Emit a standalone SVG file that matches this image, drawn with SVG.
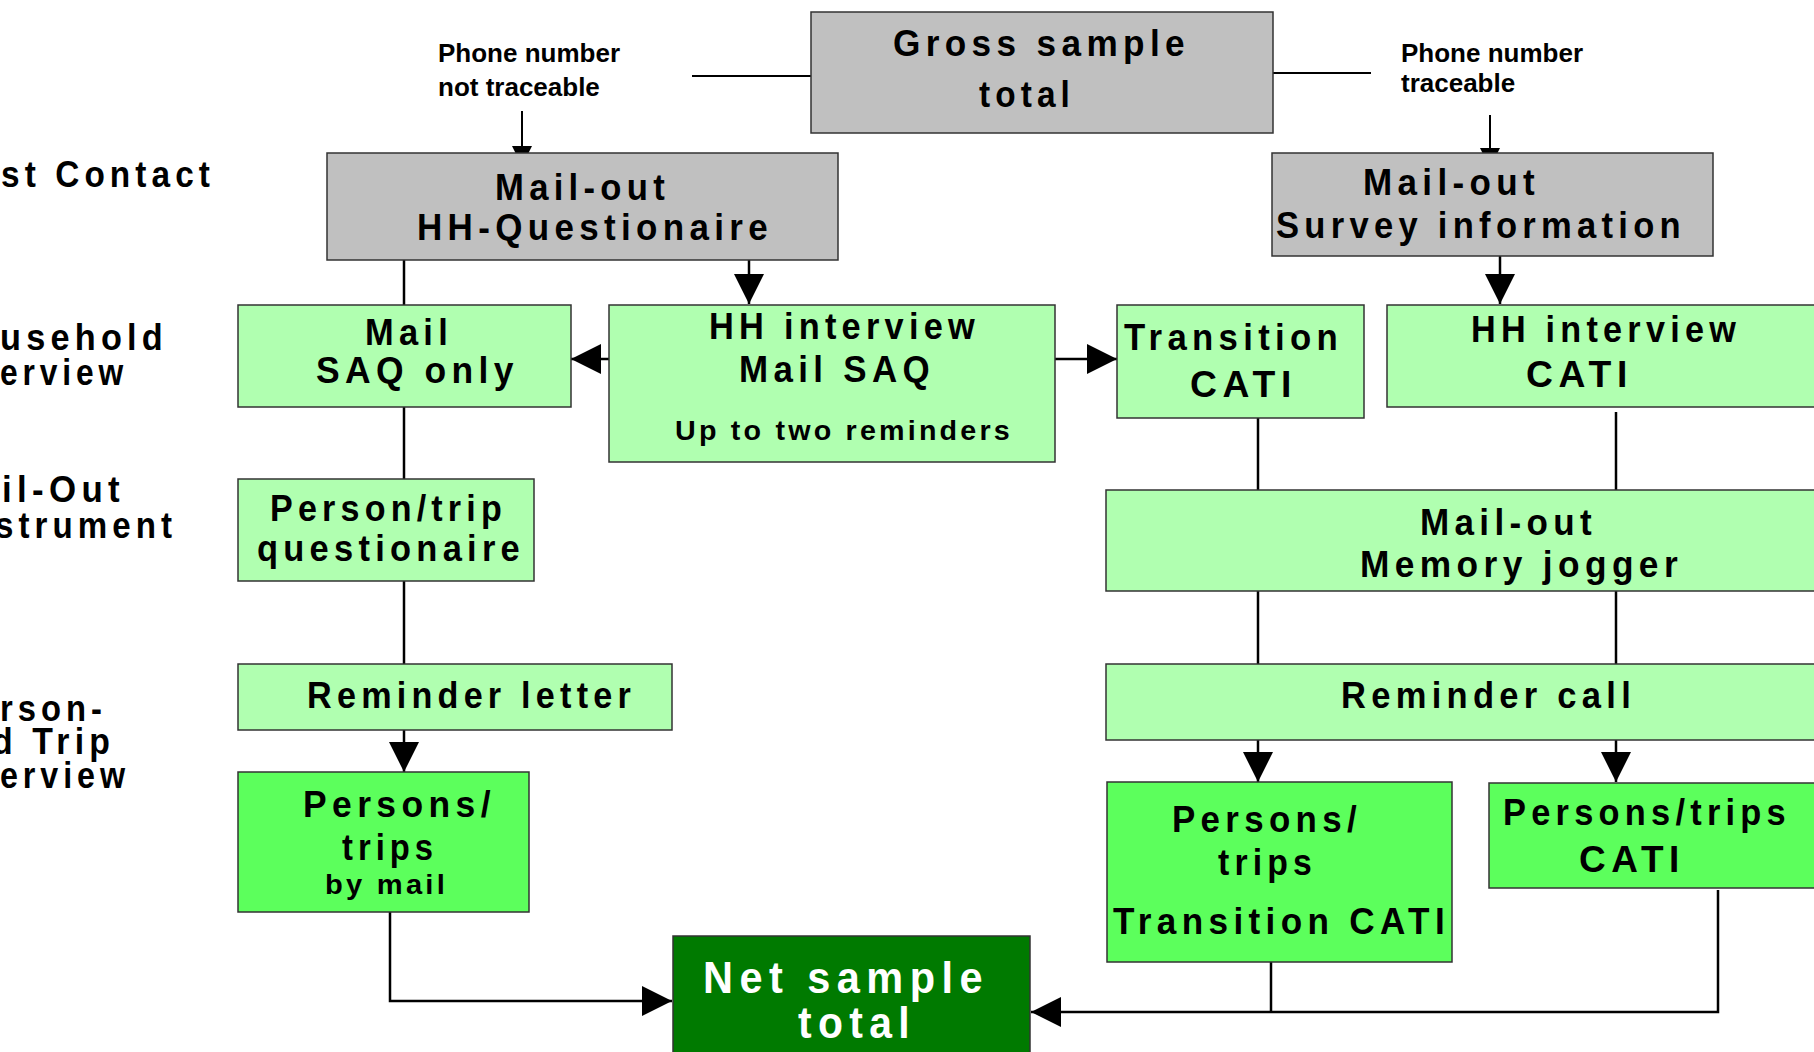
<svg xmlns="http://www.w3.org/2000/svg" width="1814" height="1052" viewBox="0 0 1814 1052">
<style>
.bx{stroke:#333;stroke-width:1.5}
.g{fill:#c0c0c0}
.lg{fill:#b0ffb0}
.bg{fill:#5cff5c}
.dg{fill:#007a00}
.t{font-family:"Liberation Sans",Arial,sans-serif;font-weight:bold;font-size:36px;letter-spacing:5.5px;fill:#000}
.s{font-size:27px;letter-spacing:3px}
.w{fill:#fff;font-size:45px;letter-spacing:7px}
.ph{font-family:"Liberation Sans",Arial,sans-serif;font-weight:bold;font-size:26px;fill:#000}
.c{fill:none;stroke:#000;stroke-width:2.5}
.cs{fill:none;stroke:#000;stroke-width:2}
</style>
<defs>
<marker id="ah" markerUnits="userSpaceOnUse" markerWidth="30" markerHeight="30" refX="30" refY="15" orient="auto" viewBox="0 0 30 30"><path d="M0,0 L30,15 L0,30 z" fill="#000"/></marker>
<marker id="as" markerUnits="userSpaceOnUse" markerWidth="20" markerHeight="20" refX="20" refY="10" orient="auto" viewBox="0 0 20 20"><path d="M0,0 L20,10 L0,20 z" fill="#000"/></marker>
</defs>
<rect width="1814" height="1052" fill="#fff"/>

<g id="row-labels">
<text class="t" x="1" y="187" textLength="214" lengthAdjust="spacingAndGlyphs">st Contact</text>
<text class="t" x="0" y="350" textLength="168" lengthAdjust="spacingAndGlyphs">usehold</text>
<text class="t" x="0" y="385" textLength="128" lengthAdjust="spacingAndGlyphs">erview</text>
<text class="t" x="2" y="502" textLength="123" lengthAdjust="spacingAndGlyphs">il-Out</text>
<text class="t" x="-5" y="538" textLength="182" lengthAdjust="spacingAndGlyphs">strument</text>
<text class="t" x="0" y="721" textLength="107" lengthAdjust="spacingAndGlyphs">rson-</text>
<text class="t" x="-8" y="754" textLength="123" lengthAdjust="spacingAndGlyphs">d Trip</text>
<text class="t" x="0" y="788" textLength="130" lengthAdjust="spacingAndGlyphs">erview</text>
</g>

<g id="phone-labels">
<text class="ph" x="438" y="62">Phone number</text>
<text class="ph" x="438" y="96">not traceable</text>
<text class="ph" x="1401" y="62">Phone number</text>
<text class="ph" x="1401" y="92">traceable</text>
</g>

<g id="connectors">
<line class="cs" x1="692" y1="76" x2="811" y2="76"/>
<line class="cs" x1="1264" y1="73" x2="1371" y2="73"/>
<line class="cs" x1="522" y1="111" x2="522" y2="166" marker-end="url(#as)"/>
<line class="cs" x1="1490" y1="115" x2="1490" y2="168" marker-end="url(#as)"/>
<line class="c" x1="404" y1="260" x2="404" y2="305"/>
<line class="c" x1="749" y1="260" x2="749" y2="304" marker-end="url(#ah)"/>
<line class="c" x1="609" y1="359" x2="571" y2="359" marker-end="url(#ah)"/>
<line class="c" x1="1055" y1="359" x2="1117" y2="359" marker-end="url(#ah)"/>
<line class="c" x1="1500" y1="256" x2="1500" y2="304" marker-end="url(#ah)"/>
<line class="c" x1="404" y1="407" x2="404" y2="479"/>
<line class="c" x1="404" y1="581" x2="404" y2="664"/>
<line class="c" x1="404" y1="730" x2="404" y2="772" marker-end="url(#ah)"/>
<line class="c" x1="1258" y1="418" x2="1258" y2="490"/>
<line class="c" x1="1616" y1="412" x2="1616" y2="490"/>
<line class="c" x1="1258" y1="591" x2="1258" y2="664"/>
<line class="c" x1="1616" y1="591" x2="1616" y2="664"/>
<line class="c" x1="1258" y1="740" x2="1258" y2="782" marker-end="url(#ah)"/>
<line class="c" x1="1616" y1="740" x2="1616" y2="782" marker-end="url(#ah)"/>
<polyline class="c" points="390,912 390,1001 672,1001" marker-end="url(#ah)"/>
<line class="c" x1="1271" y1="957" x2="1271" y2="1012"/>
<polyline class="c" points="1718,890 1718,1012 1031,1012" marker-end="url(#ah)"/>
</g>

<g id="gross-sample">
<rect class="bx g" x="811" y="12" width="462" height="121"/>
<text class="t" x="893" y="56" textLength="297" lengthAdjust="spacingAndGlyphs">Gross sample</text>
<text class="t" x="979" y="107" textLength="96" lengthAdjust="spacingAndGlyphs">total</text>
</g>

<g id="mailout-hh">
<rect class="bx g" x="327" y="153" width="511" height="107"/>
<text class="t" x="495" y="200" textLength="175" lengthAdjust="spacingAndGlyphs">Mail-out</text>
<text class="t" x="417" y="240" textLength="356" lengthAdjust="spacingAndGlyphs">HH-Questionaire</text>
</g>

<g id="mailout-survey">
<rect class="bx g" x="1272" y="153" width="441" height="103"/>
<text class="t" x="1363" y="195" textLength="177" lengthAdjust="spacingAndGlyphs">Mail-out</text>
<text class="t" x="1276" y="238" textLength="410" lengthAdjust="spacingAndGlyphs">Survey information</text>
</g>

<g id="mail-saq-only">
<rect class="bx lg" x="238" y="305" width="333" height="102"/>
<text class="t" x="365" y="345" textLength="88" lengthAdjust="spacingAndGlyphs">Mail</text>
<text class="t" x="316" y="383" textLength="203" lengthAdjust="spacingAndGlyphs">SAQ only</text>
</g>

<g id="hh-interview-mail">
<rect class="bx lg" x="609" y="305" width="446" height="157"/>
<text class="t" x="709" y="339" textLength="271" lengthAdjust="spacingAndGlyphs">HH interview</text>
<text class="t" x="739" y="382" textLength="196" lengthAdjust="spacingAndGlyphs">Mail SAQ</text>
<text class="t s" x="675" y="440" textLength="338" lengthAdjust="spacingAndGlyphs">Up to two reminders</text>
</g>

<g id="transition-cati">
<rect class="bx lg" x="1117" y="305" width="247" height="113"/>
<text class="t" x="1124" y="350" textLength="219" lengthAdjust="spacingAndGlyphs">Transition</text>
<text class="t" x="1190" y="397" textLength="107" lengthAdjust="spacingAndGlyphs">CATI</text>
</g>

<g id="hh-interview-cati">
<rect class="bx lg" x="1387" y="305" width="440" height="102"/>
<text class="t" x="1471" y="342" textLength="270" lengthAdjust="spacingAndGlyphs">HH interview</text>
<text class="t" x="1526" y="387" textLength="107" lengthAdjust="spacingAndGlyphs">CATI</text>
</g>

<g id="person-trip-questionaire">
<rect class="bx lg" x="238" y="479" width="296" height="102"/>
<text class="t" x="270" y="521" textLength="237" lengthAdjust="spacingAndGlyphs">Person/trip</text>
<text class="t" x="257" y="561" textLength="268" lengthAdjust="spacingAndGlyphs">questionaire</text>
</g>

<g id="memory-jogger">
<rect class="bx lg" x="1106" y="490" width="720" height="101"/>
<text class="t" x="1420" y="535" textLength="177" lengthAdjust="spacingAndGlyphs">Mail-out</text>
<text class="t" x="1360" y="577" textLength="323" lengthAdjust="spacingAndGlyphs">Memory jogger</text>
</g>

<g id="reminder-letter">
<rect class="bx lg" x="238" y="664" width="434" height="66"/>
<text class="t" x="307" y="708" textLength="329" lengthAdjust="spacingAndGlyphs">Reminder letter</text>
</g>

<g id="reminder-call">
<rect class="bx lg" x="1106" y="664" width="720" height="76"/>
<text class="t" x="1341" y="708" textLength="295" lengthAdjust="spacingAndGlyphs">Reminder call</text>
</g>

<g id="persons-trips-mail">
<rect class="bx bg" x="238" y="772" width="291" height="140"/>
<text class="t" x="303" y="817" textLength="193" lengthAdjust="spacingAndGlyphs">Persons/</text>
<text class="t" x="342" y="860" textLength="96" lengthAdjust="spacingAndGlyphs">trips</text>
<text class="t s" x="325" y="894" textLength="123" lengthAdjust="spacingAndGlyphs">by mail</text>
</g>

<g id="persons-trips-transition">
<rect class="bx bg" x="1107" y="782" width="345" height="180"/>
<text class="t" x="1172" y="832" textLength="190" lengthAdjust="spacingAndGlyphs">Persons/</text>
<text class="t" x="1218" y="875" textLength="99" lengthAdjust="spacingAndGlyphs">trips</text>
<text class="t" x="1113" y="934" textLength="337" lengthAdjust="spacingAndGlyphs">Transition CATI</text>
</g>

<g id="persons-trips-cati">
<rect class="bx bg" x="1489" y="783" width="340" height="105"/>
<text class="t" x="1503" y="825" textLength="288" lengthAdjust="spacingAndGlyphs">Persons/trips</text>
<text class="t" x="1579" y="872" textLength="106" lengthAdjust="spacingAndGlyphs">CATI</text>
</g>

<g id="net-sample">
<rect class="bx dg" x="673" y="936" width="357" height="130"/>
<text class="t w" x="703" y="993" textLength="286" lengthAdjust="spacingAndGlyphs">Net sample</text>
<text class="t w" x="798" y="1038" textLength="118" lengthAdjust="spacingAndGlyphs">total</text>
</g>
</svg>
